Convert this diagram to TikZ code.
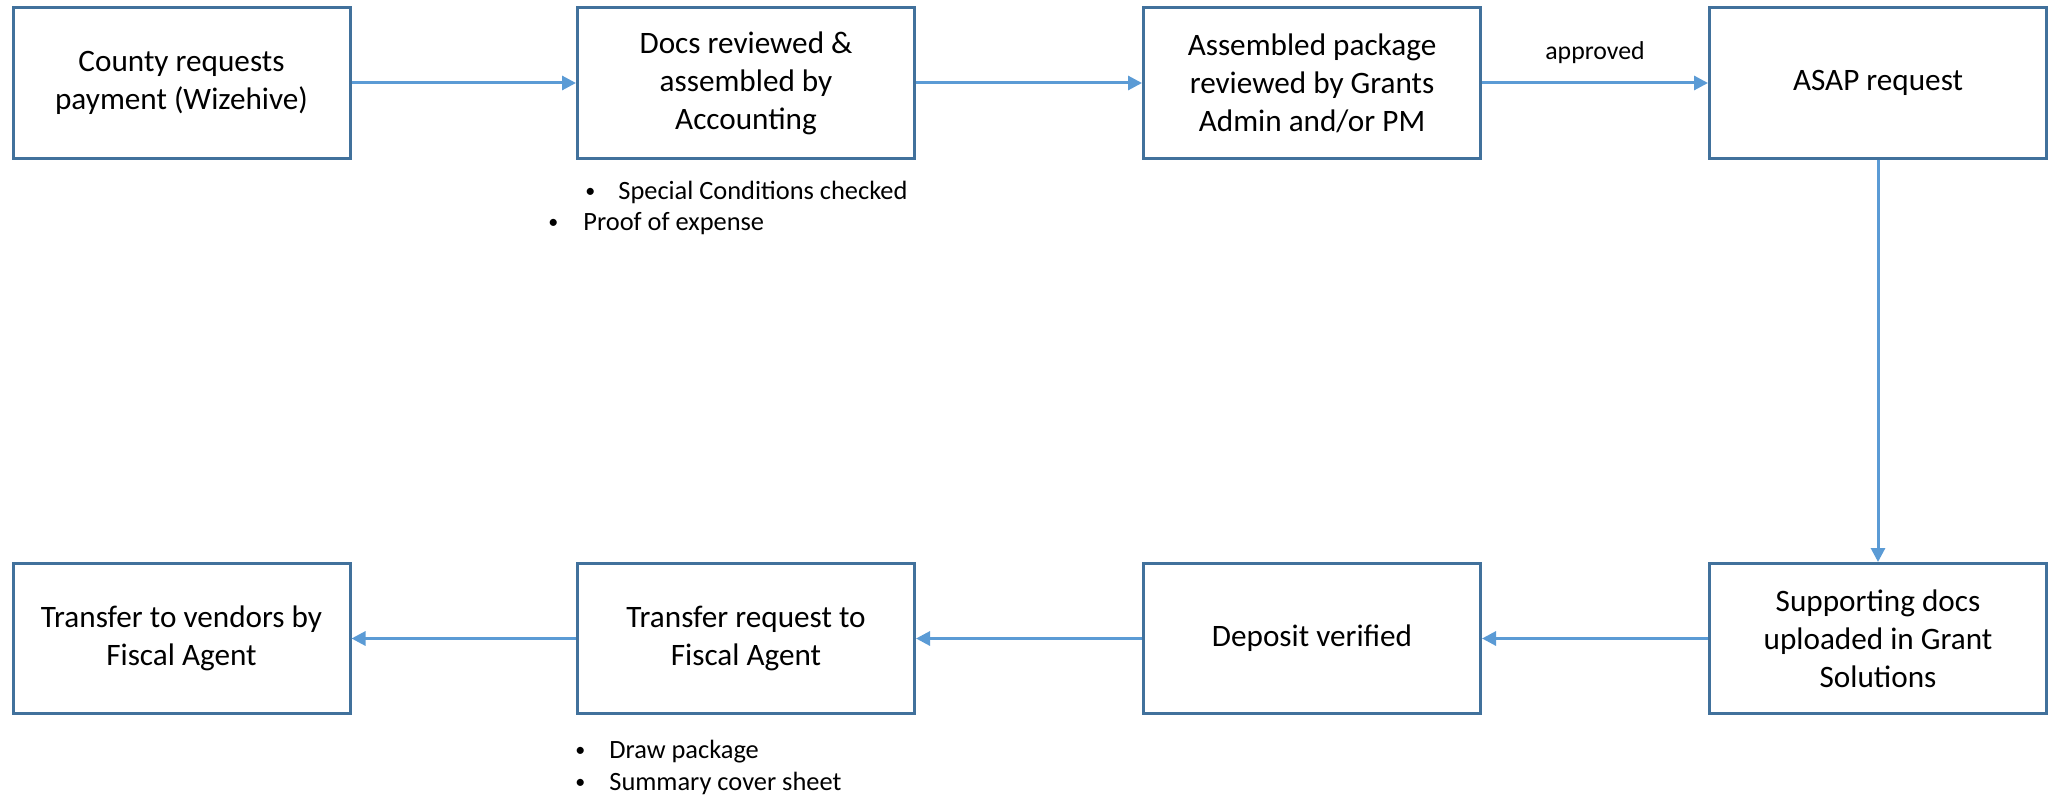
\documentclass[tikz,border=0pt]{standalone}
\usepackage{fontspec}
\setmainfont{Carlito}
\usetikzlibrary{arrows.meta}
\definecolor{boxline}{HTML}{41719C}
\definecolor{arrowc}{HTML}{5B9BD5}
\tikzset{
  stepbox/.style={draw=boxline, line width=1.5pt, fill=white, minimum width=168.5pt, minimum height=75pt, align=center, inner sep=2pt, font=\fontsize{15.6}{19}\selectfont},
  flow/.style={draw=arrowc, line width=1.5pt, -{Triangle[length=7pt,width=7pt]}},
  bul/.style={anchor=base west, inner sep=0pt, font=\fontsize{13.2}{16}\selectfont},
  dot/.style={anchor=base west, inner sep=0pt, font=\fontsize{10}{16}\selectfont},
  lbl/.style={anchor=base, inner sep=0pt, font=\fontsize{12.9}{16}\selectfont}
}
\begin{document}
\begin{tikzpicture}[x=0.5pt, y=-0.5pt]
\useasboundingbox (0,0) rectangle (2054,797);
\node[stepbox] (b1) at (181.5,83) {County requests\\payment (Wizehive)};
\node[stepbox] (b2) at (746,83) {Docs reviewed \&\\assembled by\\Accounting};
\node[stepbox] (b3) at (1312,83) {Assembled package\\reviewed by Grants\\Admin and/or PM};
\node[stepbox] (b4) at (1878,83) {ASAP request};
\node[stepbox] (b5) at (1878,638.5) {Supporting docs\\uploaded in Grant\\Solutions};
\node[stepbox] (b6) at (1312,638.5) {Deposit verified};
\node[stepbox] (b7) at (746,638.5) {Transfer request to\\Fiscal Agent};
\node[stepbox] (b8) at (181.5,638.5) {Transfer to vendors by\\Fiscal Agent};
\draw[flow] (b1) -- (b2);
\draw[flow] (b2) -- (b3);
\draw[flow] (b3) -- node[lbl, above=9pt] (ap) {approved} (b4);
\draw[flow] (b4) -- (b5);
\draw[flow] (b5) -- (b6);
\draw[flow] (b6) -- (b7);
\draw[flow] (b7) -- (b8);
\node[dot] (s1b) at (585,197) {•};
\node[bul] (s1) at (618,199) {Special Conditions checked};
\node[dot] (s2b) at (548,228) {•};
\node[bul] (s2) at (583,230) {Proof of expense};
\node[dot] (s3b) at (575,756) {•};
\node[bul] (s3) at (609,758) {Draw package};
\node[dot] (s4b) at (575,788) {•};
\node[bul] (s4) at (609,790) {Summary cover sheet};
\end{tikzpicture}
\end{document}
